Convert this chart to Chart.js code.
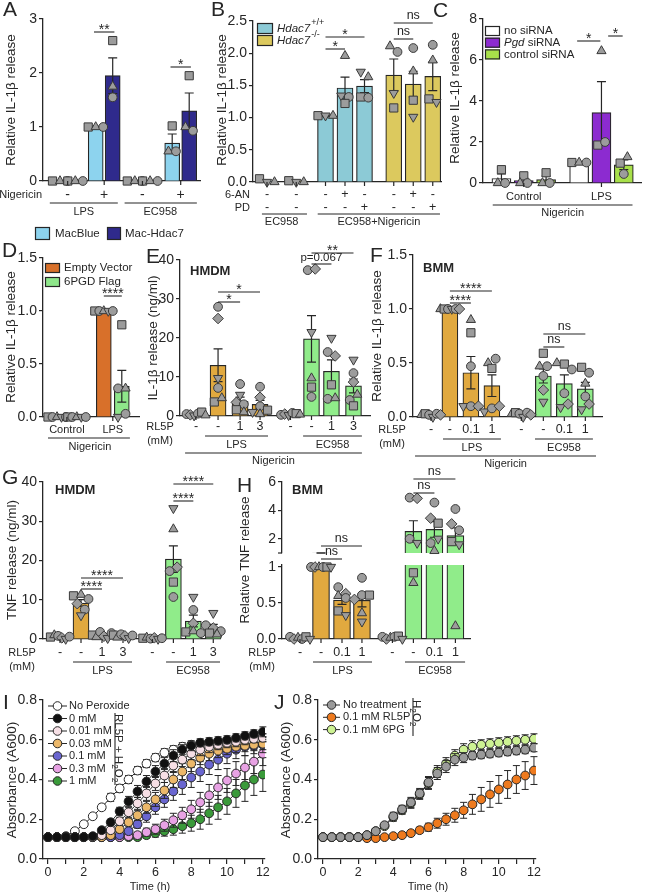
<!DOCTYPE html>
<html><head><meta charset="utf-8">
<script src="https://cdn.jsdelivr.net/npm/chart.js@4.4.1/dist/chart.umd.min.js"></script>
<style>
html,body{margin:0;padding:0;background:#fff;}
#wrap{position:relative;width:648px;height:893px;overflow:hidden;background:#fff}
#wrap canvas{position:absolute;left:0;top:0}
</style></head><body><div id="wrap"></div>
<script>
// ================= DATA =================
// Panel A
const A_stim = ['LPS', 'EC958'];
const A_nig = ['-', '+', '-', '+'];
const A_legend = ['MacBlue', 'Mac-Hdac7'];
const A_mean = [0, 0, 1.0, 1.95, 0, 0, 0.7, 1.3];
const A_sem = [0, 0, 0.01, 0.33, 0, 0, 0.17, 0.33];
const A_pts = [[0, 0, 0], [0, 0, 0], [1, 1, 1], [2.6, 1.75, 1.55], [0, 0, 0], [0, 0, 0], [1.02, 0.55, 0.55], [1.95, 1.0, 0.93]];

// Panel B
const B_legend = ['+/+', '-/-'];
const B_6AN = ['-', '-', '-', '+', '-', '-', '+', '-'];
const B_PD = ['-', '-', '-', '-', '+', '-', '-', '+'];
const B_groups = ['EC958', 'EC958+Nigericin'];
const B_mean = [0.02, 0.02, 1.03, 1.46, 1.49, 1.66, 1.52, 1.64];
const B_sem = [0, 0, 0.01, 0.17, 0.1, 0.25, 0.2, 0.22];
const B_pts = [[0.05, 0, 0, null], [0.02, 0, 0, null], [1.03, 1.03, 1.03, null], [1.22, 1.34, 1.96, 1.32], [1.32, 1.71, 1.63, 1.31], [1.15, 1.38, 2.11, 2.02], [1.27, 1.01, 1.72, 2.08], [1.29, 1.24, 1.89, 2.13]];

// Panel C
const C_legend = ['no siRNA', 'Pgd siRNA', 'control siRNA'];
const C_groups = ['Control', 'LPS'];
const C_mean = [0.22, 0.12, 0.17, 1.0, 3.43, 0.89];
const C_sem = [0.22, 0.12, 0.17, 0.01, 1.52, 0.24];
const C_pts = [[0.65, 0, 0], [0.35, 0, 0], [0.5, 0, 0], [1, 1, 1], [1.85, 6.44, 2.0], [0.97, 1.27, 0.44]];

// Panel D
const D_legend = ['Empty Vector', '6PGD Flag'];
const D_groups = ['Control', 'LPS'];
const D_mean = [0, 0, 1.0, 0.29];
const D_sem = [0, 0, 0.005, 0.15];
const D_pts = [[0, 0, 0, 0, 0], [0, 0, 0, 0, 0], [1, 1, 1, 1, 1], [0.87, 0.27, 0.27, 0, 0.03]];

// Panel E
const E_rl5p = ['-', '-', '1', '3', '-', '-', '1', '3'];
const E_groups = ['LPS', 'EC958'];
const E_mean = [0.45, 13.0, 3.78, 2.97, 0.47, 19.77, 11.47, 7.72];
const E_sem = [0.15, 4.2, 1.07, 1.06, 0.1, 5.97, 2.9, 1.77];
const E_pts = [[0.5, 0.3, 0.1, 0.6, 1.0, 0.2], [28, 25, 9.7, 7.2, 3.6, 4.6], [8.2, 3.5, 5.4, 3.0, 1.6, 1.0], [7.5, 4.8, 1.0, 2.5, 1.5, 0.5], [0.3, 0.5, 0.2, 0.8, 0.6, 0.4], [37.4, 37.7, 21.5, 4.9, 7.4, 9.7], [16.4, 15.4, 20, 4.4, 8.0, 4.6], [11.0, 8.7, 14.4, 4.1, 2.6, 5.5]];

// Panel F
const F_rl5p = ['-', '-', '0.1', '1', '-', '-', '0.1', '1'];
const F_groups = ['LPS', 'EC958'];
const F_mean = [0.02, 1.0, 0.41, 0.29, 0.03, 0.38, 0.31, 0.26];
const F_sem = [0, 0.005, 0.15, 0.1, 0, 0.065, 0.08, 0.06];
const F_pts = [[0.02, 0.03, 0.02, 0.0, 0.03, 0.02], [1, 1, 1, 1, 1, 1], [0.9, 0.78, 0.47, 0.1, 0.1, 0.1], [0.5, 0.45, 0.54, 0.05, 0.08, 0.1], [0.03, 0.04, 0.03, 0.0, 0.04, 0.02], [0.47, 0.59, 0.47, 0.14, 0.38, 0.25], [0.5, 0.49, 0.44, 0.09, 0.22, 0.12], [0.31, 0.46, 0.41, 0.07, 0.19, 0.12]];

// Panel G
const G_rl5p = ['-', '-', '1', '3', '-', '-', '1', '3'];
const G_groups = ['LPS', 'EC958'];
const G_mean = [0.53, 9.17, 0.95, 0.75, 0.2, 20.35, 4.57, 2.93];
const G_sem = [0.15, 0.85, 0.25, 0.15, 0.06, 3.4, 1.5, 0.8];
const G_pts = [[0.5, 1.0, 0.8, 0.3, 0.0, 0.6], [11.0, 11.3, 10.2, 9.0, 6.0, 7.5], [1.0, 0.5, 1.8, 0.7, 0.2, 1.5], [1.0, 0.4, 1.2, 0.8, 0.2, 0.9], [0.2, 0.4, 0.1, 0.3, 0.0, 0.2], [14.5, 28, 17.3, 18.3, 33.3, 10.7], [1.8, 2.0, 7.4, 4.0, 10.7, 1.5], [1.5, 1.2, 3.5, 2.8, 6.6, 2.0]];

// Panel H
const H_rl5p = ['-', '-', '0.1', '1', '-', '-', '0.1', '1'];
const H_groups = ['LPS', 'EC958'];
const H_mean = [0.013, 1.0, 0.54, 0.537, 0.015, 2.52, 2.66, 2.22];
const H_sem = [0, 0.005, 0.06, 0.09, 0, 0.75, 0.55, 0.55];
const H_pts = [[0.03, 0.0, 0.02, 0.0, 0.03, 0.0], [1, 1, 1, 1, 1, 1], [0.72, 0.63, 0.60, 0.57, 0.39, 0.33], [0.85, 0.55, 0.36, 0.61, 0.61, 0.24], [0.03, 0.0, 0.02, 0.03, 0.04, 0.0], [4.9, 4.85, 0.78, 2.0, 0.92, 1.7], [4.55, 3.45, 1.15, 1.7, 3.1, 2.0], [4.1, 3.05, 0.18, 2.6, 1.8, 1.6]];

// Panel I (time course)
const I_time = [0, 0.5, 1, 1.5, 2, 2.5, 3, 3.5, 4, 4.5, 5, 5.5, 6, 6.5, 7, 7.5, 8, 8.5, 9, 9.5, 10, 10.5, 11, 11.5, 12];
const I_names = ['No Peroxide', '0 mM', '0.01 mM', '0.03 mM', '0.1 mM', '0.3 mM', '1 mM'];
const I_noPerox = [0.11, 0.11, 0.115, 0.14, 0.175, 0.215, 0.26, 0.31, 0.355, 0.4, 0.445, 0.48, 0.51, 0.535, 0.55, 0.565, 0.575, 0.58, 0.585, 0.59, 0.595, 0.6, 0.605, 0.61, 0.615];
const I_0mM = [0.11, 0.11, 0.11, 0.11, 0.11, 0.115, 0.145, 0.185, 0.24, 0.29, 0.34, 0.39, 0.44, 0.48, 0.52, 0.55, 0.57, 0.585, 0.59, 0.595, 0.6, 0.61, 0.62, 0.63, 0.64];
const I_001 = [0.11, 0.11, 0.11, 0.11, 0.11, 0.11, 0.12, 0.145, 0.19, 0.235, 0.28, 0.33, 0.38, 0.42, 0.47, 0.5, 0.53, 0.55, 0.565, 0.575, 0.585, 0.59, 0.6, 0.605, 0.61];
const I_003 = [0.11, 0.11, 0.11, 0.11, 0.11, 0.11, 0.11, 0.12, 0.15, 0.185, 0.22, 0.26, 0.3, 0.345, 0.4, 0.44, 0.48, 0.51, 0.53, 0.545, 0.555, 0.565, 0.57, 0.575, 0.58];
const I_01 = [0.11, 0.11, 0.11, 0.11, 0.11, 0.11, 0.11, 0.11, 0.12, 0.14, 0.175, 0.215, 0.26, 0.3, 0.34, 0.375, 0.41, 0.44, 0.475, 0.5, 0.53, 0.55, 0.565, 0.57, 0.575];
const I_03 = [0.11, 0.11, 0.11, 0.11, 0.11, 0.11, 0.11, 0.11, 0.11, 0.115, 0.12, 0.135, 0.15, 0.17, 0.195, 0.22, 0.25, 0.285, 0.32, 0.36, 0.395, 0.43, 0.46, 0.49, 0.53];
const I_1mM = [0.11, 0.11, 0.11, 0.11, 0.11, 0.11, 0.11, 0.11, 0.11, 0.11, 0.11, 0.12, 0.13, 0.14, 0.15, 0.165, 0.18, 0.2, 0.23, 0.26, 0.29, 0.33, 0.37, 0.4, 0.425];
const I_noPerox_err = [0, 0, 0, 0.005, 0.01, 0.01, 0.015, 0.02, 0.02, 0.02, 0.02, 0.02, 0.02, 0.02, 0.02, 0.02, 0.015, 0.015, 0.015, 0.015, 0.015, 0.015, 0.015, 0.015, 0.015];
const I_0mM_err = [0, 0, 0, 0, 0, 0, 0.01, 0.015, 0.02, 0.025, 0.03, 0.03, 0.03, 0.03, 0.03, 0.025, 0.025, 0.02, 0.02, 0.02, 0.02, 0.02, 0.02, 0.02, 0.025];
const I_001_err = [0, 0, 0, 0, 0, 0, 0.005, 0.01, 0.02, 0.025, 0.03, 0.035, 0.035, 0.035, 0.035, 0.035, 0.03, 0.03, 0.03, 0.025, 0.025, 0.025, 0.025, 0.02, 0.02];
const I_003_err = [0, 0, 0, 0, 0, 0, 0, 0.01, 0.015, 0.02, 0.025, 0.03, 0.035, 0.04, 0.04, 0.04, 0.04, 0.035, 0.035, 0.035, 0.03, 0.03, 0.03, 0.03, 0.03];
const I_01_err = [0, 0, 0, 0, 0, 0, 0, 0, 0.01, 0.015, 0.02, 0.03, 0.035, 0.04, 0.045, 0.05, 0.05, 0.05, 0.05, 0.05, 0.05, 0.045, 0.045, 0.04, 0.04];
const I_03_err = [0, 0, 0, 0, 0, 0, 0, 0, 0, 0.01, 0.015, 0.02, 0.025, 0.03, 0.035, 0.04, 0.045, 0.05, 0.055, 0.06, 0.06, 0.06, 0.06, 0.06, 0.06];
const I_1mM_err = [0, 0, 0, 0, 0, 0, 0, 0, 0, 0, 0.01, 0.015, 0.02, 0.025, 0.03, 0.035, 0.04, 0.05, 0.055, 0.06, 0.065, 0.07, 0.08, 0.08, 0.085];

// Panel J
const J_names = ['No treatment', '0.1 mM RL5P', '0.1 mM 6PG'];
const J_none = [0.11, 0.11, 0.11, 0.11, 0.11, 0.12, 0.14, 0.17, 0.215, 0.25, 0.285, 0.33, 0.385, 0.43, 0.465, 0.5, 0.51, 0.52, 0.525, 0.53, 0.535, 0.54, 0.545, 0.55, 0.56];
const J_rl5p = [0.11, 0.11, 0.11, 0.11, 0.11, 0.105, 0.105, 0.11, 0.115, 0.12, 0.13, 0.145, 0.16, 0.18, 0.2, 0.22, 0.245, 0.275, 0.3, 0.325, 0.35, 0.375, 0.4, 0.42, 0.445];
const J_6pg = [0.11, 0.11, 0.11, 0.11, 0.11, 0.12, 0.14, 0.165, 0.21, 0.245, 0.28, 0.325, 0.38, 0.44, 0.48, 0.52, 0.55, 0.565, 0.575, 0.58, 0.585, 0.59, 0.595, 0.6, 0.605];
const J_none_err = [0, 0, 0, 0, 0, 0.005, 0.01, 0.01, 0.02, 0.02, 0.025, 0.025, 0.03, 0.03, 0.03, 0.03, 0.025, 0.02, 0.02, 0.02, 0.02, 0.02, 0.02, 0.02, 0.02];
const J_rl5p_err = [0, 0, 0, 0, 0, 0, 0, 0, 0.005, 0.01, 0.01, 0.015, 0.02, 0.025, 0.03, 0.035, 0.04, 0.05, 0.06, 0.065, 0.07, 0.07, 0.07, 0.07, 0.07];
const J_6pg_err = [0, 0, 0, 0, 0, 0, 0.01, 0.01, 0.02, 0.02, 0.025, 0.025, 0.03, 0.03, 0.03, 0.03, 0.03, 0.03, 0.025, 0.025, 0.025, 0.025, 0.025, 0.025, 0.025];

// ================= RENDER =================
const FONT = '"Liberation Sans", Arial, Helvetica, sans-serif';
const INK = '#262626';
const PT_FILL = '#9c9c9c', PT_EDGE = '#3a3a3a';
const SH = {
  c: { s: 'circle', r: 4.4, rot: 0 },
  s: { s: 'rect', r: 5.8, rot: 0 },
  t: { s: 'triangle', r: 5.3, rot: 0 },
  v: { s: 'triangle', r: 5.3, rot: 180 },
  d: { s: 'rectRot', r: 5.3, rot: 0 }
};
const COL = {
  macblue: '#8dd3ee', hdac7: '#2f2a8c', teal: '#8ccad6', yellow: '#dcc95e',
  white: '#ffffff', purple: '#8c2bd0', lime: '#a8e04a', dorange: '#d8702a', lgreen: '#8ee68a',
  gold: '#e1a93f', green: '#90ec8a'
};
const LET = 21, YT = 14, LAB = 11, SGN = 12.5, LEG = 11.5;

function newCanvas() {
  const c = document.createElement('canvas');
  c.width = 648; c.height = 893;
  c.style.width = '648px'; c.style.height = '893px';
  document.getElementById('wrap').appendChild(c);
  return c;
}
function T(ctx, s, x, y, size, o = {}) {
  ctx.save();
  ctx.font = (o.it ? 'italic ' : '') + (o.bold ? 'bold ' : '') + size + 'px ' + FONT;
  ctx.fillStyle = o.color || INK;
  ctx.textAlign = o.align || 'center';
  ctx.textBaseline = o.base || 'middle';
  if (o.rot) { ctx.translate(x, y); ctx.rotate(o.rot); ctx.fillText(s, 0, 0); }
  else ctx.fillText(s, x, y);
  const w = ctx.measureText(s).width;
  ctx.restore();
  return w;
}
function L(ctx, x1, y1, x2, y2, w) {
  ctx.save(); ctx.strokeStyle = INK; ctx.lineWidth = w || 1.1;
  ctx.beginPath(); ctx.moveTo(x1, y1); ctx.lineTo(x2, y2); ctx.stroke(); ctx.restore();
}
function SW(ctx, x, y, w, h, fill) {
  ctx.save(); ctx.fillStyle = fill; ctx.fillRect(x, y, w, h);
  ctx.strokeStyle = INK; ctx.lineWidth = 1.2; ctx.strokeRect(x + 0.5, y + 0.5, w - 1, h - 1); ctx.restore();
}
function SIG(ctx, s, x1, x2, y) {
  L(ctx, x1, y, x2, y, 1.1);
  const star = s.indexOf('*') >= 0;
  T(ctx, s, (x1 + x2) / 2, star ? y - 2 : y - 7, star ? 14 : 12.5);
}
function TK(ctx, x, y) { L(ctx, x, y, x, y + 4, 1.2); }
function letter(ctx, s, x, y) { T(ctx, s, x, y, LET, { align: 'left', base: 'alphabetic' }); }
function ytitle(ctx, s, x, y) { T(ctx, s, x, y, 13.5, { rot: -Math.PI / 2 }); }
function chem(ctx, x, y, parts, size) {
  ctx.save(); ctx.translate(x, y); ctx.rotate(Math.PI / 2);
  ctx.fillStyle = INK; ctx.textBaseline = 'middle'; ctx.textAlign = 'left';
  let cx = 0;
  parts.forEach(p => {
    ctx.font = (p[1] ? size * 0.72 : size) + 'px ' + FONT;
    ctx.fillText(p[0], cx, p[1] ? size * 0.35 : 0);
    cx += ctx.measureText(p[0]).width;
  });
  ctx.restore();
}

function yScale(o) {
  return {
    type: 'linear', min: o.ymin, max: o.ymax, offset: false,
    afterBuildTicks: s => { s.ticks = o.yticks.map(v => ({ value: v })); },
    afterFit: s => { s.width = o.yW; },
    ticks: { callback: o.yfmt || (v => String(v)), font: { family: FONT, size: YT }, color: INK, padding: 2, autoSkip: false },
    grid: { drawOnChartArea: false, drawTicks: true, tickLength: 4, color: INK, lineWidth: 1.2 },
    border: { display: true, color: INK, width: 1.3 }
  };
}
const f1 = v => v.toFixed(1);

function barChart(o) {
  const cv = newCanvas();
  const yW = o.yW || 34;
  const pxY = (o.area.b - o.area.t) / (o.ymax - o.ymin);
  const pxX = (o.area.r - o.area.l) / (o.xmax - o.xmin);
  const keep = o.keep || (() => true);
  const pts = [];
  o.pts.forEach((arr, i) => {
    const items = arr.map((v, j) => ({ v, j })).filter(p => p.v !== null && keep(p.v));
    items.sort((a, b) => b.v - a.v);
    const groups = [];
    items.forEach(p => {
      const g = groups[groups.length - 1];
      if (g && (g[0].v - p.v) * pxY < 7) g.push(p); else groups.push([p]);
    });
    groups.forEach(g => {
      g.sort((a, b) => a.j - b.j);
      const n = g.length, sp = n > 1 ? Math.min(7.5, (o.barW + 3) / (n - 1)) : 0;
      g.forEach((p, k) => pts.push({ x: o.pos[i] + (k - (n - 1) / 2) * sp / pxX, y: p.v, sh: SH[o.shapes[p.j]] }));
    });
  });
  const errPlug = {
    id: 'err',
    afterDatasetDraw(chart, args) {
      if (args.index !== 0) return;
      const ctx = chart.ctx, ys = chart.scales.y;
      ctx.save(); ctx.strokeStyle = INK; ctx.lineWidth = 1.2;
      args.meta.data.forEach((el, i) => {
        const m = o.mean[i], e = o.sem[i];
        if (!e || m < o.ymin || m > o.ymax) return;
        const a = ys.getPixelForValue(m + e), b = ys.getPixelForValue(m - e), x = el.x, cw = 4.5;
        ctx.beginPath(); ctx.moveTo(x, a); ctx.lineTo(x, b);
        ctx.moveTo(x - cw, a); ctx.lineTo(x + cw, a); ctx.moveTo(x - cw, b); ctx.lineTo(x + cw, b); ctx.stroke();
      });
      ctx.restore();
    }
  };
  const annPlug = { id: 'ann', afterDraw(chart) { if (o.ann) o.ann(chart.ctx, v => chart.scales.x.getPixelForValue(v), chart); } };
  return new Chart(cv, {
    type: 'bar',
    data: {
      datasets: [
        { type: 'bar', data: o.pos.map((x, i) => ({ x, y: o.mean[i] })), backgroundColor: o.fills, borderColor: INK, borderWidth: 1.2, barThickness: o.barW, clip: o.clip === undefined ? false : o.clip, order: 2 },
        { type: 'scatter', data: pts.map(p => ({ x: p.x, y: p.y })), pointStyle: pts.map(p => p.sh.s), pointRotation: pts.map(p => p.sh.rot), pointRadius: pts.map(p => p.sh.r), pointBackgroundColor: PT_FILL, pointBorderColor: PT_EDGE, pointBorderWidth: 1, showLine: false, order: 1, clip: false }
      ]
    },
    options: {
      responsive: false, animation: false, events: [],
      plugins: { legend: { display: false }, tooltip: { enabled: false } },
      layout: { padding: { left: o.area.l - yW, right: 648 - o.area.r, top: o.area.t, bottom: 893 - o.area.b } },
      scales: {
        x: { type: 'linear', min: o.xmin, max: o.xmax, offset: false, afterFit: s => { s.height = 0; }, ticks: { display: false }, grid: { display: false }, border: { display: o.xBorder !== false, color: INK, width: 1.3 } },
        y: yScale(Object.assign({}, o, { yW }))
      }
    },
    plugins: [errPlug, annPlug]
  });
}

function lineChart(o) {
  const cv = newCanvas();
  const yW = 34, xH = 18;
  const errPlug = {
    id: 'lerr',
    beforeDatasetDraw(chart, args) {
      const s = o.series[args.index];
      const ctx = chart.ctx, ys = chart.scales.y;
      ctx.save(); ctx.strokeStyle = INK; ctx.lineWidth = 1;
      args.meta.data.forEach((el, i) => {
        const e = s.err[i]; if (!e) return;
        const m = s.y[i], a = ys.getPixelForValue(m + e), b = ys.getPixelForValue(m - e), x = el.x, cw = 3.5;
        ctx.beginPath(); ctx.moveTo(x, a); ctx.lineTo(x, b);
        ctx.moveTo(x - cw, a); ctx.lineTo(x + cw, a); ctx.moveTo(x - cw, b); ctx.lineTo(x + cw, b); ctx.stroke();
      });
      ctx.restore();
    }
  };
  const annPlug = { id: 'ann', afterDraw(chart) { o.ann(chart.ctx, chart); } };
  return new Chart(cv, {
    type: 'line',
    data: {
      datasets: o.series.map(s => ({
        data: o.t.map((t, i) => ({ x: t, y: s.y[i] })),
        borderColor: INK, borderWidth: 1, pointRadius: 4.4, pointBackgroundColor: s.color,
        pointBorderColor: INK, pointBorderWidth: 1, tension: 0, fill: false
      }))
    },
    options: {
      responsive: false, animation: false, events: [],
      plugins: { legend: { display: false }, tooltip: { enabled: false } },
      layout: { padding: { left: o.area.l - yW, right: 648 - o.area.r, top: o.area.t, bottom: 893 - o.area.b - xH } },
      scales: {
        x: {
          type: 'linear', min: o.xmin, max: o.xmax,
          afterBuildTicks: s => { s.ticks = o.xt.map(v => ({ value: v })); },
          afterFit: s => { s.height = xH; },
          ticks: { callback: v => (v % 2 === 0 ? String(v) : ''), font: { family: FONT, size: 12.5 }, color: INK, padding: 1, maxRotation: 0, autoSkip: false },
          grid: { drawOnChartArea: false, drawTicks: true, tickLength: 5, color: INK, lineWidth: 1.2 },
          border: { display: true, color: INK, width: 1.3 }
        },
        y: yScale({ ymin: 0, ymax: 0.8, yticks: [0, 0.2, 0.4, 0.6, 0.8], yfmt: f1, yW })
      }
    },
    plugins: [errPlug, annPlug]
  });
}

// ---------- Panel A ----------
const A_pos = [0, 0.9, 2.1, 3.1, 4.4, 5.3, 6.6, 7.6];
barChart({
  area: { l: 43, r: 200, t: 19, b: 181 }, xmin: -1.0, xmax: 8.235, ymin: 0, ymax: 3, yticks: [0, 1, 2, 3],
  pos: A_pos, barW: 15, mean: A_mean, sem: A_sem, pts: A_pts, shapes: ['s', 't', 'c'],
  fills: [COL.macblue, COL.hdac7, COL.macblue, COL.hdac7, COL.macblue, COL.hdac7, COL.macblue, COL.hdac7],
  ann: (c, X) => {
    letter(c, 'A', 3, 16);
    ytitle(c, 'Relative IL-1β release', 11, 100);
    T(c, 'Nigericin', 42, 195, LAB, { align: 'right' });
    A_nig.forEach((s, k) => { const xc = (X(A_pos[2 * k]) + X(A_pos[2 * k + 1])) / 2; T(c, s, xc, 195, 14); TK(c, xc, 181); });
    L(c, X(-0.6), 203, X(3.4), 203); L(c, X(3.8), 203, X(8.05), 203);
    T(c, A_stim[0], X(1.4), 212, LAB); T(c, A_stim[1], X(5.9), 212, LAB);
    SIG(c, '**', X(2.0), X(3.2), 32); SIG(c, '*', X(6.5), X(7.7), 67);
    SW(c, 35, 227, 15, 13, COL.macblue); T(c, A_legend[0], 55, 234, LEG, { align: 'left' });
    SW(c, 107, 227, 14, 13, COL.hdac7); T(c, A_legend[1], 125, 234, LEG, { align: 'left' });
  }
});

// ---------- Panel B ----------
const B_pos = [0, 1.5, 3, 4, 5, 6.5, 7.5, 8.5];
barChart({
  area: { l: 253, r: 441, t: 21, b: 182 }, xmin: -0.718, xmax: 8.923, ymin: 0, ymax: 2.5, yticks: [0, 0.5, 1, 1.5, 2, 2.5], yfmt: f1,
  pos: B_pos, barW: 16, mean: B_mean, sem: B_sem, pts: B_pts, shapes: ['s', 'v', 't', 'c'],
  fills: [COL.teal, COL.yellow, COL.teal, COL.teal, COL.teal, COL.yellow, COL.yellow, COL.yellow],
  ann: (c, X) => {
    letter(c, 'B', 211, 16);
    ytitle(c, 'Relative IL-1β release', 222, 100);
    SW(c, 257, 23, 16, 11, COL.teal); SW(c, 257, 35, 16, 11, COL.yellow);
    B_legend.forEach((s, k) => {
      const y = 29 + k * 12;
      const w = T(c, 'Hdac7', 277, y, LEG, { it: true, align: 'left' });
      T(c, s, 278 + w, y - 6, 9, { align: 'left' });
    });
    T(c, '6-AN', 250, 195, LAB, { align: 'right' }); T(c, 'PD', 250, 208, LAB, { align: 'right' });
    B_pos.forEach((p, i) => { T(c, B_6AN[i], X(p), 195, SGN); T(c, B_PD[i], X(p), 208, SGN); TK(c, X(p), 182); });
    L(c, X(-0.26), 214, X(2.05), 214); L(c, X(2.6), 214, X(8.87), 214);
    T(c, B_groups[0], X(0.75), 222, LAB); T(c, B_groups[1], X(5.74), 222, LAB);
    SIG(c, '*', X(3), X(5), 37); SIG(c, '*', X(3), X(4), 49);
    SIG(c, 'ns', X(6.5), X(8.5), 23); SIG(c, 'ns', X(6.5), X(7.5), 39);
  }
});

// ---------- Panel C ----------
const C_pos = [0, 1, 2, 3.48, 4.48, 5.48];
barChart({
  area: { l: 483, r: 646, t: 19, b: 183 }, xmin: -0.826, xmax: 6.26, ymin: 0, ymax: 8, yticks: [0, 2, 4, 6, 8],
  pos: C_pos, barW: 19, mean: C_mean, sem: C_sem, pts: C_pts, shapes: ['s', 't', 'c'],
  fills: [COL.white, COL.purple, COL.lime, COL.white, COL.purple, COL.lime],
  ann: (c, X) => {
    letter(c, 'C', 433, 17);
    ytitle(c, 'Relative IL-1β release', 455, 98);
    const cols = [COL.white, COL.purple, COL.lime];
    cols.forEach((f, k) => SW(c, 485, 26 + k * 11.7, 15, 10, f));
    T(c, C_legend[0], 504, 31, LEG, { align: 'left' });
    const w = T(c, 'Pgd', 504, 43, LEG, { align: 'left', it: true });
    T(c, ' siRNA', 504 + w, 43, LEG, { align: 'left' });
    T(c, C_legend[2], 504, 54.5, LEG, { align: 'left' });
    T(c, C_groups[0], X(1), 197, LAB); T(c, C_groups[1], X(4.48), 197, LAB);
    TK(c, X(1), 183); TK(c, X(4.48), 183);
    L(c, X(-0.39), 205, X(5.87), 205); T(c, 'Nigericin', X(2.74), 213, LAB);
    SIG(c, '*', X(3.39), X(4.43), 41); SIG(c, '*', X(4.78), X(5.43), 36);
  }
});

// ---------- Panel D ----------
const D_pos = [0, 1.1, 2.6, 3.6];
barChart({
  area: { l: 43, r: 139, t: 258, b: 417 }, xmin: -0.778, xmax: 4.556, ymin: 0, ymax: 1.5, yticks: [0, 0.5, 1, 1.5], yfmt: f1,
  pos: D_pos, barW: 15, mean: D_mean, sem: D_sem, pts: D_pts, shapes: ['s', 'c', 't', 'v', 'c'],
  fills: [COL.dorange, COL.lgreen, COL.dorange, COL.lgreen],
  ann: (c, X) => {
    letter(c, 'D', 2, 257);
    ytitle(c, 'Relative IL-1β release', 11, 337);
    SW(c, 45, 263, 15, 10, COL.dorange); T(c, D_legend[0], 64, 268, LEG, { align: 'left' });
    SW(c, 45, 277, 15, 10, COL.lgreen); T(c, D_legend[1], 64, 282, LEG, { align: 'left' });
    T(c, D_groups[0], X(0.55), 430, LAB); T(c, D_groups[1], X(3.1), 430, LAB);
    TK(c, X(0.55), 417); TK(c, X(3.1), 417);
    L(c, X(-0.5), 438, X(4.05), 438); T(c, 'Nigericin', X(1.83), 447, LAB);
    SIG(c, '****', X(2.6), X(3.6), 296);
  }
});

// helper for RL5P panels
function rlRows(c, X, pos, labels, groups, y, xl, axisY, lineA, lineB, nig) {
  T(c, 'RL5P', xl, y, LAB); T(c, '(mM)', xl, y + 14, LAB);
  pos.forEach((p, i) => { T(c, labels[i], X(p), y, SGN); TK(c, X(p), axisY); });
  L(c, X(lineA[0]), y + 9, X(lineA[1]), y + 9); T(c, groups[0], X((lineA[0] + lineA[1]) / 2), y + 18, LAB);
  L(c, X(lineB[0]), y + 9, X(lineB[1]), y + 9); T(c, groups[1], X((lineB[0] + lineB[1]) / 2), y + 18, LAB);
  if (nig) { L(c, X(nig[0]), y + 26, X(nig[1]), y + 26); T(c, 'Nigericin', X((nig[0] + nig[1]) / 2), y + 34, LAB); }
}

// ---------- Panel E ----------
const E_pos = [0, 1.05, 2.1, 3.05, 4.5, 5.5, 6.45, 7.5];
barChart({
  area: { l: 180, r: 370, t: 260, b: 416 }, xmin: -0.762, xmax: 8.286, ymin: 0, ymax: 40, yticks: [0, 10, 20, 30, 40],
  pos: E_pos, barW: 16, mean: E_mean, sem: E_sem, pts: E_pts, shapes: ['c', 'd', 'v', 'c', 's', 't'],
  fills: [COL.gold, COL.gold, COL.gold, COL.gold, COL.green, COL.green, COL.green, COL.green],
  ann: (c, X) => {
    letter(c, 'E', 146, 263);
    ytitle(c, 'IL-1β release (ng/ml)', 153, 338);
    T(c, 'HMDM', 190, 271, 13, { align: 'left', bold: true });
    rlRows(c, X, E_pos, E_rl5p, E_groups, 427, 160, 416, [0.43, 3.43], [5.1, 7.9], [-0.52, 7.9]);
    SIG(c, '*', X(1.05), X(3.05), 292); SIG(c, '*', X(1.05), X(2.1), 302);
    SIG(c, '**', X(5.5), X(7.5), 253);
    L(c, X(5.5), 264, X(6.45), 264); T(c, 'p=0.067', X(5.97), 258, 11.5);
  }
});

// ---------- Panel F ----------
const F_pos = [0, 0.9, 1.9, 2.9, 4.3, 5.35, 6.35, 7.35];
barChart({
  area: { l: 413, r: 602, t: 255, b: 417 }, xmin: -0.857, xmax: 8.143, ymin: 0, ymax: 1.5, yticks: [0, 0.5, 1, 1.5], yfmt: f1,
  pos: F_pos, barW: 16, mean: F_mean, sem: F_sem, pts: F_pts, shapes: ['t', 's', 'c', 'v', 'c', 'd'],
  fills: [COL.gold, COL.gold, COL.gold, COL.gold, COL.green, COL.green, COL.green, COL.green],
  ann: (c, X) => {
    letter(c, 'F', 370, 262);
    ytitle(c, 'Relative IL-1β release', 377, 336);
    T(c, 'BMM', 423, 268, 13, { align: 'left', bold: true });
    rlRows(c, X, F_pos, F_rl5p, F_groups, 430, 392, 417, [0.57, 3.33], [4.95, 7.71], [-0.76, 7.86]);
    SIG(c, '****', X(0.9), X(2.9), 291); SIG(c, '****', X(0.9), X(1.9), 303);
    SIG(c, 'ns', X(5.35), X(7.35), 334); SIG(c, 'ns', X(5.35), X(6.35), 347);
  }
});

// ---------- Panel G ----------
const G_pos = [0, 1, 2, 3, 4.4, 5.4, 6.35, 7.3];
barChart({
  area: { l: 43, r: 220, t: 482, b: 639 }, xmin: -0.81, xmax: 7.62, ymin: 0, ymax: 40, yticks: [0, 10, 20, 30, 40],
  pos: G_pos, barW: 16, mean: G_mean, sem: G_sem, pts: G_pts, shapes: ['s', 't', 'c', 'd', 'v', 'c'],
  fills: [COL.gold, COL.gold, COL.gold, COL.gold, COL.green, COL.green, COL.green, COL.green],
  ann: (c, X) => {
    letter(c, 'G', 2, 484);
    ytitle(c, 'TNF release (ng/ml)', 12, 560);
    T(c, 'HMDM', 55, 490, 13, { align: 'left', bold: true });
    rlRows(c, X, G_pos, G_rl5p, G_groups, 653, 22, 639, [0.62, 3.43], [5.05, 7.62], null);
    SIG(c, '****', X(1), X(3), 578); SIG(c, '****', X(1), X(2), 589);
    SIG(c, '****', X(5.4), X(7.3), 484); SIG(c, '****', X(5.4), X(6.35), 501);
  }
});

// ---------- Panel H (broken y axis) ----------
const H_pos = [0, 1, 2, 2.95, 4.4, 5.4, 6.4, 7.4];
const H_fills = [COL.gold, COL.gold, COL.gold, COL.gold, COL.green, COL.green, COL.green, COL.green];
const H_shapes = ['c', 'd', 't', 'c', 's', 'v'];
barChart({
  area: { l: 282, r: 470, t: 482, b: 553 }, xmin: -0.857, xmax: 8.095, ymin: 1, ymax: 6, yticks: [2, 4, 6],
  pos: H_pos, barW: 17, mean: H_mean, sem: H_sem, pts: H_pts, shapes: H_shapes, fills: H_fills,
  clip: 0, xBorder: false, keep: v => v > 1.028,
  ann: (c, X) => {
    letter(c, 'H', 237, 492);
    ytitle(c, 'Relative TNF release', 245, 560);
    T(c, 'BMM', 292, 490, 13, { align: 'left', bold: true });
    L(c, 278, 553, 282, 553, 1.2);
    SIG(c, 'ns', X(1), X(2.95), 546); SIG(c, 'ns', X(1), X(2), 559);
    SIG(c, 'ns', X(5.4), X(7.4), 479); SIG(c, 'ns', X(5.4), X(6.4), 493);
  }
});
barChart({
  area: { l: 282, r: 470, t: 565, b: 639 }, xmin: -0.857, xmax: 8.095, ymin: 0, ymax: 1.028, yticks: [0, 0.5, 1],
  yfmt: v => (v === 1 ? '1' : v.toFixed(1)),
  pos: H_pos, barW: 17, mean: H_mean, sem: H_sem, pts: H_pts, shapes: H_shapes, fills: H_fills,
  clip: 0, keep: v => v <= 1.028,
  ann: (c, X) => {
    rlRows(c, X, H_pos, H_rl5p, H_groups, 653, 262, 639, [0.62, 3.43], [5.0, 7.86], null);
  }
});

// ---------- Panel I ----------
const I_xt = [0, 1, 2, 3, 4, 5, 6, 7, 8, 9, 10, 11, 12];
const I_cols = ['#ffffff', '#111111', '#f6dfe5', '#ecb86a', '#6a66d0', '#e8a2e4', '#3a9a3a'];
const I_vals = [I_noPerox, I_0mM, I_001, I_003, I_01, I_03, I_1mM];
const I_errs = [I_noPerox_err, I_0mM_err, I_001_err, I_003_err, I_01_err, I_03_err, I_1mM_err];
const I_drawOrder = [1, 2, 3, 4, 5, 6, 0];
lineChart({
  area: { l: 43, r: 265, t: 700, b: 859 }, xmin: -0.28, xmax: 12.12, t: I_time, xt: I_xt,
  series: I_drawOrder.map(k => ({ y: I_vals[k], err: I_errs[k], color: I_cols[k] })),
  ann: (c) => {
    letter(c, 'I', 3, 709);
    ytitle(c, 'Absorbance (A600)', 12, 780);
    T(c, 'Time (h)', 150, 887, 11);
    I_names.forEach((n, k) => {
      const y = 706 + k * 12.5;
      L(c, 48, y, 67, y, 1);
      c.save(); c.beginPath(); c.arc(57.5, y, 4.3, 0, Math.PI * 2); c.fillStyle = I_cols[k]; c.fill();
      c.strokeStyle = INK; c.lineWidth = 1; c.stroke(); c.restore();
      T(c, n, 69, y, 11, { align: 'left' });
    });
    L(c, 115, 713, 115, 785, 1.1);
    chem(c, 118, 714, [['RL5P + H', 0], ['2', 1], ['O', 0], ['2', 1]], 11.5);
  }
});

// ---------- Panel J ----------
const J_cols = ['#9a9a9a', '#ee7a1e', '#cdf293'];
const J_vals = [J_none, J_rl5p, J_6pg];
const J_errs = [J_none_err, J_rl5p_err, J_6pg_err];
const J_drawOrder = [0, 2, 1];
lineChart({
  area: { l: 318, r: 536, t: 700, b: 859 }, xmin: -0.284, xmax: 12.116, t: I_time, xt: I_xt,
  series: J_drawOrder.map(k => ({ y: J_vals[k], err: J_errs[k], color: J_cols[k] })),
  ann: (c) => {
    letter(c, 'J', 274, 709);
    ytitle(c, 'Absorbance (A600)', 286, 780);
    T(c, 'Time (h)', 428, 887, 11);
    J_names.forEach((n, k) => {
      const y = 705 + k * 12.3;
      L(c, 323, y, 340, y, 1);
      c.save(); c.beginPath(); c.arc(331.5, y, 4.3, 0, Math.PI * 2); c.fillStyle = J_cols[k]; c.fill();
      c.strokeStyle = INK; c.lineWidth = 1; c.stroke(); c.restore();
      T(c, n, 343, y, 11, { align: 'left' });
    });
    L(c, 413, 698, 413, 736, 1.1);
    chem(c, 416, 700, [['H', 0], ['2', 1], ['O', 0], ['2', 1]], 11.5);
  }
});
</script></body></html>
